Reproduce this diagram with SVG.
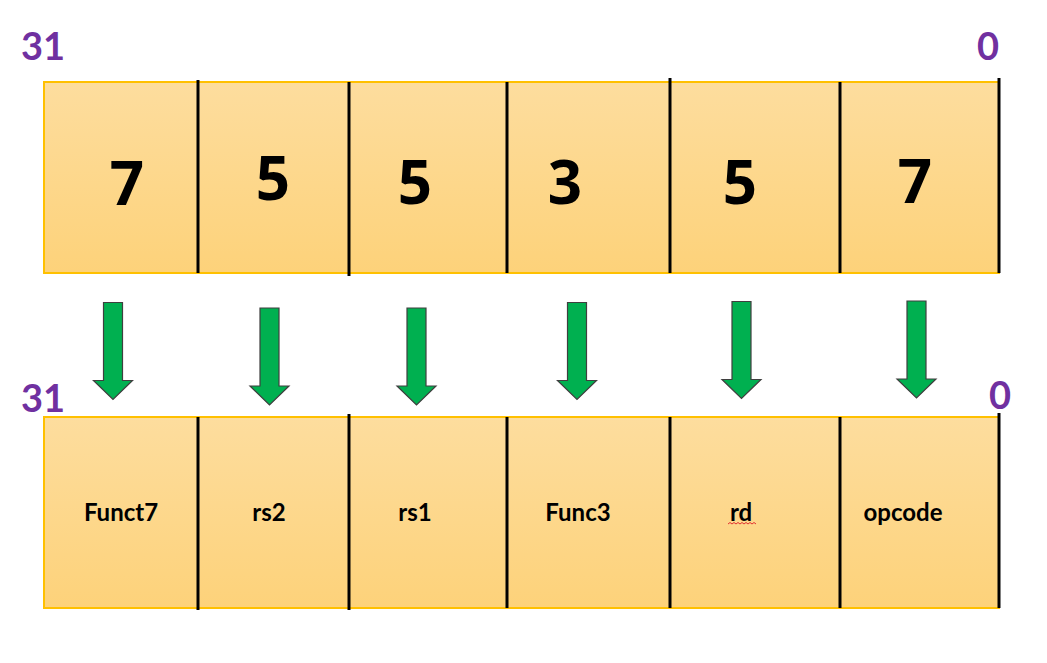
<svg xmlns="http://www.w3.org/2000/svg" width="1047" height="663" viewBox="0 0 1047 663">
<defs>
<linearGradient id="bar" x1="0" y1="0" x2="0" y2="1">
<stop offset="0" stop-color="#FDDD9E"/>
<stop offset="1" stop-color="#FDD27A"/>
</linearGradient>
<polygon id="arr" points="-9.5,0 9.5,0 9.5,78 19.5,78 0,97 -19.5,78 -9.5,78"/>
</defs>
<style>
.bar{fill:url(#bar);stroke:#FFC000;stroke-width:2}
.div{stroke:#000;stroke-width:3}
.bit{font-family:Lato,"Open Sans",sans-serif;font-weight:bold;font-size:38px;fill:#7030A0}
.num{font-family:"Open Sans",Lato,sans-serif;font-weight:bold;font-size:60px;fill:#000;text-anchor:middle}
.lbl{font-family:Lato,"Open Sans",sans-serif;font-weight:bold;font-size:24px;fill:#000;text-anchor:middle}
.arrow{fill:#00B050;stroke:#3F3F3F;stroke-width:1.2}
</style>
<rect width="1047" height="663" fill="#fff"/>
<g id="top-register">
<rect class="bar" x="44" y="82" width="955" height="191"/>
<line class="div" x1="198" y1="80" x2="198" y2="273"/>
<line class="div" x1="349" y1="82" x2="349" y2="276"/>
<line class="div" x1="507" y1="82" x2="507" y2="273"/>
<line class="div" x1="670" y1="78" x2="670" y2="273"/>
<line class="div" x1="840" y1="82" x2="840" y2="273"/>
<line class="div" x1="999" y1="78" x2="999" y2="273"/>
<text class="bit" x="21" y="60">31</text>
<text class="bit" x="977" y="60">0</text>
<text class="num" x="127" y="205">7</text>
<text class="num" x="273" y="200">5</text>
<text class="num" x="415" y="204">5</text>
<text class="num" x="565" y="204">3</text>
<text class="num" x="740" y="204">5</text>
<text class="num" x="915" y="203">7</text>
</g>
<g id="arrows">
<use href="#arr" class="arrow" x="113" y="302.5"/>
<use href="#arr" class="arrow" x="269.5" y="308"/>
<use href="#arr" class="arrow" x="416.5" y="308"/>
<use href="#arr" class="arrow" x="577" y="302.5"/>
<use href="#arr" class="arrow" x="741.5" y="301.5"/>
<use href="#arr" class="arrow" x="916.5" y="301"/>
</g>
<g id="bottom-register">
<rect class="bar" x="44" y="417" width="955" height="191"/>
<line class="div" x1="198" y1="417" x2="198" y2="610"/>
<line class="div" x1="349" y1="414" x2="349" y2="610"/>
<line class="div" x1="507" y1="417" x2="507" y2="608"/>
<line class="div" x1="670" y1="417" x2="670" y2="608"/>
<line class="div" x1="840" y1="417" x2="840" y2="608"/>
<line class="div" x1="999" y1="413" x2="999" y2="608"/>
<text class="bit" x="21" y="412">31</text>
<text class="bit" x="989" y="409">0</text>
<text class="lbl" x="121" y="521">Funct7</text>
<text class="lbl" x="269" y="521">rs2</text>
<text class="lbl" x="415" y="521">rs1</text>
<text class="lbl" x="578" y="521">Func3</text>
<text class="lbl" x="741" y="521">rd</text>
<text class="lbl" x="903" y="521">opcode</text>
<path d="M728,524 l2,-1.5 l2,1.5 l2,-1.5 l2,1.5 l2,-1.5 l2,1.5 l2,-1.5 l2,1.5 l2,-1.5 l2,1.5 l2,-1.5 l2,1.5 l2,-1.5 l2,1.5" fill="none" stroke="#E03030" stroke-width="1"/>
</g>
</svg>
